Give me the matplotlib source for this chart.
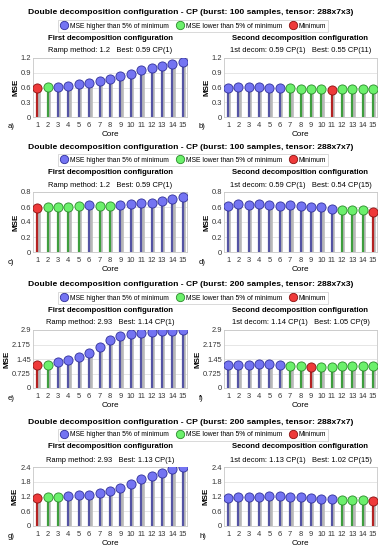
import matplotlib
matplotlib.use("Agg")
import matplotlib.pyplot as plt
from matplotlib.lines import Line2D
import numpy as np

plt.rcParams['font.family'] = ['Liberation Sans', 'DejaVu Sans']

cores = list(range(1, 16))

# Block 1: burst 100, tensor 288x7x3
a_vals = [0.59, 0.61, 0.62, 0.64, 0.68, 0.70, 0.74, 0.78, 0.83, 0.88, 0.96, 1.00, 1.04, 1.08, 1.11]
a_cls = ['r', 'g'] + ['b'] * 13
b_vals = [0.60, 0.62, 0.62, 0.62, 0.60, 0.60, 0.58, 0.57, 0.57, 0.56, 0.55, 0.57, 0.57, 0.57, 0.57]
b_cls = ['b'] * 6 + ['g'] * 4 + ['r'] + ['g'] * 4
# Block 2: burst 100, tensor 288x7x7
c_vals = [0.59, 0.60, 0.60, 0.60, 0.61, 0.63, 0.61, 0.61, 0.63, 0.64, 0.66, 0.66, 0.68, 0.71, 0.74]
c_cls = ['r', 'g', 'g', 'g', 'g', 'b', 'g', 'g'] + ['b'] * 7
d_vals = [0.62, 0.64, 0.63, 0.64, 0.63, 0.62, 0.63, 0.61, 0.60, 0.60, 0.58, 0.56, 0.56, 0.56, 0.54]
d_cls = ['b'] * 11 + ['g'] * 3 + ['r']
# Block 3: burst 200, tensor 288x7x3
e_vals = [1.14, 1.16, 1.29, 1.38, 1.54, 1.77, 2.07, 2.40, 2.60, 2.70, 2.77, 2.82, 2.87, 2.87, 2.90]
e_cls = ['r', 'g'] + ['b'] * 13
f_vals = [1.16, 1.17, 1.17, 1.19, 1.18, 1.15, 1.09, 1.08, 1.05, 1.07, 1.07, 1.08, 1.09, 1.10, 1.10]
f_cls = ['b'] * 6 + ['g'] * 2 + ['r'] + ['g'] * 6
# Block 4: burst 200, tensor 288x7x7
g_vals = [1.13, 1.17, 1.18, 1.21, 1.26, 1.27, 1.34, 1.42, 1.53, 1.69, 1.90, 2.02, 2.17, 2.31, 2.40]
g_cls = ['r', 'g', 'g'] + ['b'] * 12
h_vals = [1.15, 1.17, 1.18, 1.19, 1.23, 1.21, 1.18, 1.17, 1.13, 1.11, 1.09, 1.07, 1.06, 1.05, 1.02]
h_cls = ['b'] * 11 + ['g'] * 3 + ['r']

suptitles = [
    "Double decomposition configuration - CP (burst: 100 samples, tensor: 288x7x3)",
    "Double decomposition configuration - CP (burst: 100 samples, tensor: 288x7x7)",
    "Double decomposition configuration - CP (burst: 200 samples, tensor: 288x7x3)",
    "Double decomposition configuration - CP (burst: 200 samples, tensor: 288x7x7)",
]
left_texts = ["Ramp method: 1.2   Best: 0.59 CP(1)", "Ramp method: 1.2   Best: 0.59 CP(1)",
              "Ramp method: 2.93   Best: 1.14 CP(1)", "Ramp method: 2.93   Best: 1.13 CP(1)"]
right_texts = ["1st decom: 0.59 CP(1)   Best: 0.55 CP(11)", "1st decom: 0.59 CP(1)   Best: 0.54 CP(15)",
               "1st decom: 1.14 CP(1)   Best: 1.05 CP(9)", "1st decom: 1.13 CP(1)   Best: 1.02 CP(15)"]
yticks_list = [[0, 0.3, 0.6, 0.9, 1.2], [0, 0.2, 0.4, 0.6, 0.8],
               [0, 0.725, 1.45, 2.175, 2.9], [0, 0.6, 1.2, 1.8, 2.4]]
ytick_labels = [["0", "0.3", "0.6", "0.9", "1.2"], ["0", "0.2", "0.4", "0.6", "0.8"],
                ["0", "0.725", "1.45", "2.175", "2.9"], ["0", "0.6", "1.2", "1.8", "2.4"]]
panel_letters = [("a)", "b)"), ("c)", "d)"), ("e)", "f)"), ("g)", "h)")]
data = [((a_vals, a_cls), (b_vals, b_cls)), ((c_vals, c_cls), (d_vals, d_cls)),
        ((e_vals, e_cls), (f_vals, f_cls)), ((g_vals, g_cls), (h_vals, h_cls))]

face = {'b': '#7474f2', 'g': '#6cf06c', 'r': '#ee3a3a'}
edge = {'b': '#30309a', 'g': '#2a8a2a', 'r': '#8a1010'}
stemc = {'b': '#5454a4', 'g': '#3e9e3e', 'r': '#b42222'}

W, H = 384, 550
fig = plt.figure(figsize=(W / 100, H / 100), dpi=100)

tops = [58, 192, 330, 467]
bots = [117, 252, 388, 526]
lefts = [(33, 187), (224, 377)]

def fx(px):
    return px / W

def fy(py):
    return 1 - py / H

for bi in range(4):
    top, bot = tops[bi], bots[bi]
    yt = yticks_list[bi]
    for side in range(2):
        x0, x1 = lefts[side]
        ax = fig.add_axes([fx(x0), fy(bot), fx(x1 - x0), (bot - top) / H])
        vals, cls = data[bi][side]
        for c, v, k in zip(cores, vals, cls):
            ax.plot([c + 0.13, c + 0.13], [0, v], color='#b8b8b8', lw=2.6, solid_capstyle='butt', zorder=2)
            ax.plot([c, c], [0, v], color=stemc[k], lw=1.6, solid_capstyle='butt', zorder=3)
            ax.plot([c], [v], 'o', ms=6.6, mfc=face[k], mec=edge[k], mew=0.6, zorder=4)
        ax.set_xlim(0.6, 15.4)
        ax.set_ylim(0, yt[-1])
        ax.set_xticks(cores)
        ax.set_yticks(yt)
        ax.set_yticklabels(ytick_labels[bi])
        ax.tick_params(axis='x', labelsize=5.4, length=0, pad=3.5, colors='#333333')
        ax.tick_params(axis='y', labelsize=5.4, length=0, pad=1.5, colors='#333333')
        ax.grid(axis='y', color='#e2e2e2', lw=0.6, zorder=0)
        for s in ax.spines.values():
            s.set_color('#c8c8c8')
            s.set_linewidth(0.6)
        ax.set_axisbelow(True)
        ax.set_xlabel("Core", fontsize=5.9, labelpad=1.5)
        ax.set_ylabel("MSE", fontsize=5.8, fontweight='bold', labelpad=1)
        cx = (x0 + x1) / 2
        subt = "First decomposition configuration" if side == 0 else "Second decomposition configuration"
        fig.text(fx(cx), fy(tops[bi] - 20), subt, ha='center', va='center', fontsize=5.6, fontweight='bold')
        fig.text(fx(cx), fy(tops[bi] - 7), left_texts[bi] if side == 0 else right_texts[bi],
                 ha='center', va='center', fontsize=5.4)
        fig.text(fx(8 if side == 0 else 199), fy(bot + 10), panel_letters[bi][side],
                 ha='left', va='center', fontsize=5.6)
    fig.text(fx(191), fy(tops[bi] - 45), suptitles[bi], ha='center', va='center', fontsize=6.1, fontweight='bold')
    handles = [Line2D([], [], ls='none', marker='o', ms=6, mfc=face[k], mec=edge[k], mew=0.6) for k in ['b', 'g', 'r']]
    leg = fig.legend(handles, ["MSE higher than 5% of minimum", "MSE lower than 5% of minimum", "Minimum"],
                     loc='center', bbox_to_anchor=(fx(193), fy(tops[bi] - 32)), ncol=3, fontsize=4.9,
                     frameon=True, fancybox=False, edgecolor='#c8c8c8', handletextpad=0.3,
                     columnspacing=1.0, borderpad=0.3, handlelength=1.2)
    leg.get_frame().set_linewidth(0.6)

fig.savefig("out.png", dpi=100)
